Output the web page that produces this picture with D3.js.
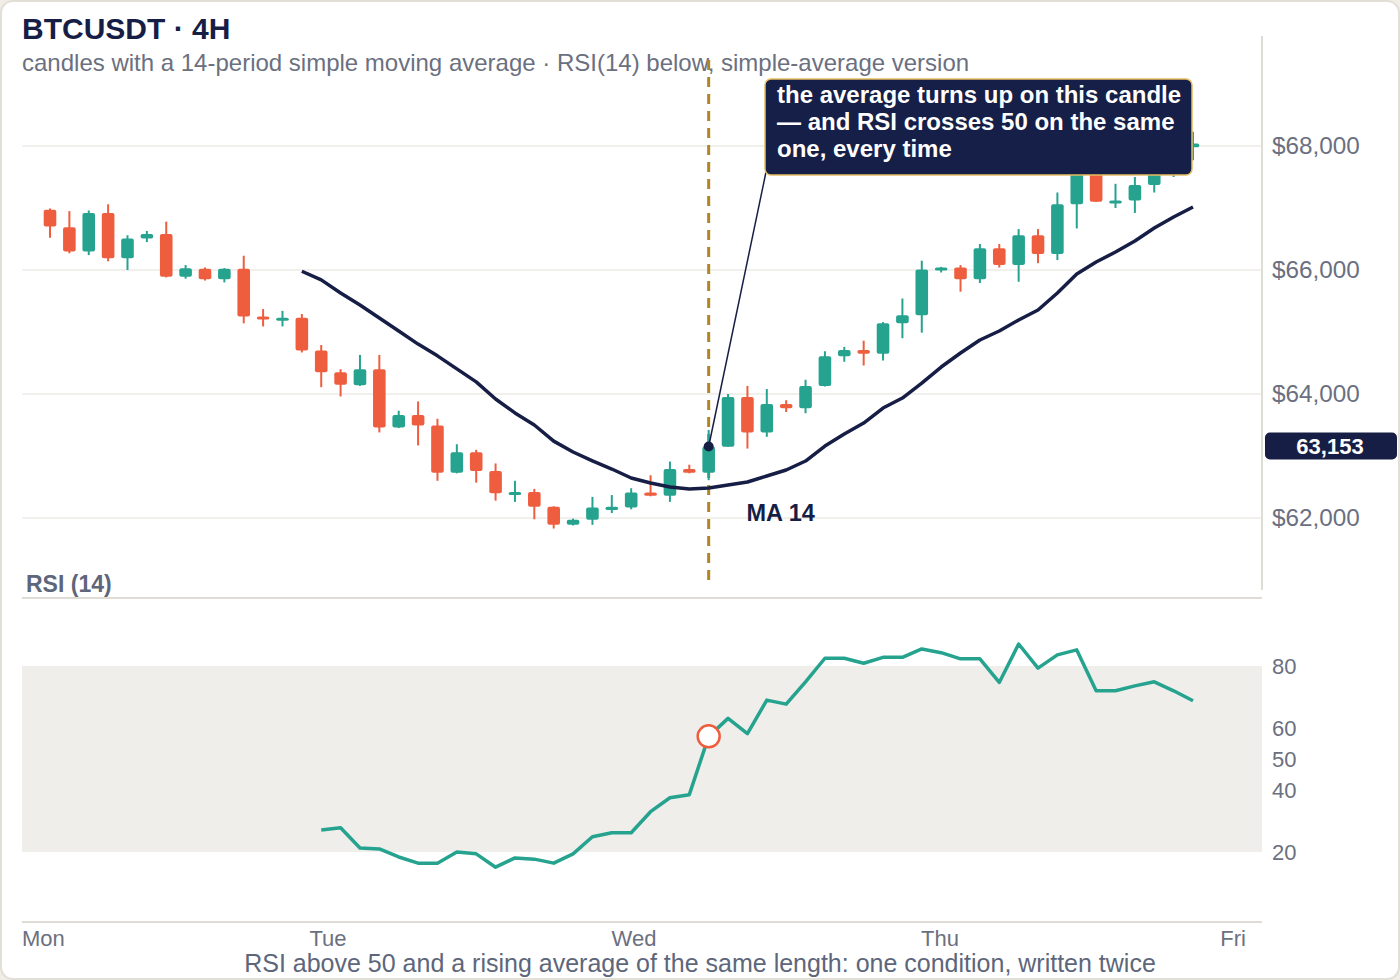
<!DOCTYPE html>
<html>
<head>
<meta charset="utf-8">
<script src="https://cdn.jsdelivr.net/npm/d3@7"></script>
<style>
    body { margin: 0; background: #efede6; }
    svg { display: block; font-family: "Liberation Sans", Arial, sans-serif; }
</style>
</head>
<body>
<div id="chart"></div>
<script>
// 4H candles
var opens = [66970, 66690, 66300, 66920, 66190, 66510, 66580, 65890, 66020, 65850,
             66020, 65250, 65200, 65230, 64700, 64350, 64140, 64400, 63460, 63660,
             63490, 62730, 63060, 62760, 62390, 62420, 62180, 61890, 61970, 62130,
             62170, 62410, 62360, 62790, 62730, 63150, 63950, 63380, 63840, 63770,
             64130, 64610, 64710, 64650, 65140, 65270, 66010, 66040, 65850, 66350,
             66080, 66560, 66260, 67060, 67690, 67100, 67120, 67370, 67610, 67980];
var highs = [66990, 66950, 66960, 67060, 66560, 66630, 66780, 66080, 66040, 66030,
             66230, 65370, 65340, 65290, 64790, 64400, 64630, 64630, 63730, 63880,
             63600, 63190, 63100, 62880, 62600, 62470, 62190, 61990, 62340, 62370,
             62480, 62690, 62910, 62860, 63420, 64000, 64130, 64080, 63900, 64230,
             64690, 64760, 64860, 65160, 65540, 66150, 66050, 66080, 66420, 66420,
             66660, 66660, 67250, 67800, 67780, 67390, 67500, 67770, 68100, 68230];
var lows = [66520, 66270, 66240, 66140, 66000, 66450, 65880, 65860, 65830, 65800,
            65140, 65090, 65090, 64670, 64110, 63960, 64130, 63380, 63450, 63170,
            62600, 62720, 62570, 62280, 62260, 61980, 61830, 61880, 61890, 62080,
            62140, 62350, 62260, 62720, 62610, 63150, 63120, 63310, 63710, 63690,
            64120, 64520, 64460, 64540, 64900, 64990, 65960, 65650, 65790, 66040,
            65810, 66110, 66160, 66670, 67100, 67000, 66920, 67250, 67500, 67770];
var closes = [66700, 66300, 66920, 66190, 66510, 66580, 65890, 66030, 65850, 66020,
              65250, 65210, 65230, 64700, 64350, 64150, 64400, 63460, 63660, 63490,
              62730, 63060, 62760, 62400, 62420, 62180, 61890, 61970, 62170, 62180,
              62410, 62360, 62790, 62730, 63153, 63950, 63380, 63840, 63770, 64130,
              64610, 64710, 64650, 65140, 65270, 66010, 66040, 65850, 66350, 66080,
              66560, 66260, 67060, 67690, 67100, 67120, 67370, 67610, 67980, 68040];

// 14-period simple moving average (starts on candle 13)
var maValues = [null, null, null, null, null, null, null, null, null, null, null, null, null,
                65980, 65840, 65630, 65435, 65225, 65015, 64805, 64615, 64405, 64195,
                63920, 63695, 63500, 63240, 63065, 62920, 62790, 62645, 62565, 62500,
                62468, 62484, 62532, 62581, 62677, 62774, 62919, 63161, 63355, 63532,
                63774, 63935, 64177, 64435, 64661, 64871, 65016, 65194, 65355, 65629,
                65935, 66129, 66290, 66468, 66677, 66855, 67016];

// RSI(14), simple-average version (starts on candle 14)
var rsiValues = [null, null, null, null, null, null, null, null, null, null, null, null, null, null,
                 27.1, 27.8, 21.3, 21.0, 18.4, 16.4, 16.4, 20.0, 19.4, 15.1,
                 18.1, 17.7, 16.4, 19.4, 24.9, 26.2, 26.2, 33.0, 37.5, 38.5,
                 57.3, 63.1, 58.2, 69.0, 67.7, 74.9, 82.5, 82.5, 80.9, 82.8,
                 82.8, 85.5, 84.3, 82.3, 82.3, 74.7, 87.1, 79.3, 83.6, 85.2,
                 72.0, 72.0, 73.6, 74.9, 72.0, 68.8];

var days = ["Mon", "Tue", "Wed", "Thu", "Fri"];
var priceTicks = [62000, 64000, 66000, 68000];
var rsiTicks = [20, 40, 50, 60, 80];
var rsiBand = [20, 80];
var markIndex = 34;

var noteLines = ["the average turns up on this candle",
                 "\u2014 and RSI crosses 50 on the same",
                 "one, every time"];

function draw() {
    var w = 1400;
    var h = 980;
    var left = 22, right = 1262;

    var navy = "#161e45";
    var up = "#26a38f";
    var down = "#ee5d3e";
    var grey = "#6b7080";

    var svg = d3.select("#chart")
        .append("svg")
        .attr("width", w)
        .attr("height", h);

    // card
    svg.append("rect")
        .attr("x", 1).attr("y", 1)
        .attr("width", w - 2).attr("height", h - 2)
        .attr("rx", 12)
        .attr("fill", "#ffffff")
        .attr("stroke", "#e2dfd6")
        .attr("stroke-width", 2);

    var x = d3.scaleLinear()
        .domain([0, opens.length - 1])
        .range([50, 1193]);

    var y = d3.scaleLinear()
        .domain([61000, 69000])
        .range([580, 84]);

    var yr = d3.scaleLinear()
        .domain([0, 100])
        .range([914, 604]);

    var xDay = d3.scalePoint()
        .domain(days)
        .range([left, 1246]);

    // title
    svg.append("text")
        .attr("x", 22).attr("y", 39)
        .attr("font-size", 30)
        .attr("font-weight", "bold")
        .attr("fill", navy)
        .text("BTCUSDT \u00b7 4H");

    svg.append("text")
        .attr("x", 22).attr("y", 71)
        .attr("font-size", 24)
        .attr("fill", grey)
        .text("candles with a 14-period simple moving average \u00b7 RSI(14) below, simple-average version");

    // price grid + labels
    svg.selectAll(".grid")
        .data(priceTicks)
        .enter()
        .append("line")
        .attr("x1", left).attr("x2", right)
        .attr("y1", function (d) { return y(d); })
        .attr("y2", function (d) { return y(d); })
        .attr("stroke", "#ecebe6")
        .attr("stroke-width", 1.5);

    svg.selectAll(".plabel")
        .data(priceTicks)
        .enter()
        .append("text")
        .attr("x", 1272)
        .attr("y", function (d) { return y(d) + 8; })
        .attr("font-size", 24.3)
        .attr("fill", grey)
        .text(function (d) { return "$" + d3.format(",")(d); });

    // right axis line
    svg.append("line")
        .attr("x1", right).attr("x2", right)
        .attr("y1", 36).attr("y2", 590)
        .attr("stroke", "#dedcd5")
        .attr("stroke-width", 2);

    // marked candle guide
    svg.append("line")
        .attr("x1", x(markIndex)).attr("x2", x(markIndex))
        .attr("y1", 60).attr("y2", 580)
        .attr("stroke", "#b08624")
        .attr("stroke-width", 3)
        .attr("stroke-dasharray", "10,7");

    // candles
    var candles = svg.selectAll(".candle")
        .data(opens)
        .enter()
        .append("g")
        .attr("class", "candle");

    candles.append("line")
        .attr("x1", function (d, i) { return x(i); })
        .attr("x2", function (d, i) { return x(i); })
        .attr("y1", function (d, i) { return y(highs[i]); })
        .attr("y2", function (d, i) { return y(lows[i]); })
        .attr("stroke", function (d, i) { return closes[i] >= opens[i] ? up : down; })
        .attr("stroke-width", 2);

    var bw = 12.6;
    candles.append("rect")
        .attr("x", function (d, i) { return x(i) - bw / 2; })
        .attr("y", function (d, i) { return y(Math.max(opens[i], closes[i])); })
        .attr("width", bw)
        .attr("height", function (d, i) {
            return Math.max(3, Math.abs(y(opens[i]) - y(closes[i])));
        })
        .attr("rx", 2)
        .attr("fill", function (d, i) { return closes[i] >= opens[i] ? up : down; });

    // moving average
    var maLine = d3.line()
        .defined(function (d) { return d != null; })
        .x(function (d, i) { return x(i); })
        .y(function (d) { return y(d); });

    svg.append("path")
        .datum(maValues)
        .attr("d", maLine)
        .attr("fill", "none")
        .attr("stroke", navy)
        .attr("stroke-width", 3.5)
        .attr("stroke-linejoin", "round");

    svg.append("text")
        .attr("x", x(36) - 1)
        .attr("y", y(maValues[36]) + 39)
        .attr("font-size", 23.5)
        .attr("font-weight", "bold")
        .attr("fill", navy)
        .text("MA 14");

    // annotation
    var mx = x(markIndex), my = y(closes[markIndex]);
    svg.append("line")
        .attr("x1", mx).attr("y1", my)
        .attr("x2", 766).attr("y2", 172)
        .attr("stroke", navy)
        .attr("stroke-width", 1.5);

    svg.append("circle")
        .attr("cx", mx).attr("cy", my)
        .attr("r", 5)
        .attr("fill", navy);

    svg.append("rect")
        .attr("x", 765).attr("y", 79)
        .attr("width", 427).attr("height", 96)
        .attr("rx", 6)
        .attr("fill", "#161f48")
        .attr("stroke", "#e6bd62")
        .attr("stroke-width", 1.5);

    svg.selectAll(".note")
        .data(noteLines)
        .enter()
        .append("text")
        .attr("x", 777)
        .attr("y", function (d, i) { return 103 + i * 27; })
        .attr("font-size", 24)
        .attr("font-weight", "bold")
        .attr("fill", "#ffffff")
        .text(function (d) { return d; });

    // marked price tag
    svg.append("rect")
        .attr("x", 1265).attr("y", my - 14)
        .attr("width", 132).attr("height", 27)
        .attr("rx", 5)
        .attr("fill", navy);

    svg.append("text")
        .attr("x", 1330).attr("y", my + 7.5)
        .attr("text-anchor", "middle")
        .attr("font-size", 22)
        .attr("font-weight", "bold")
        .attr("fill", "#ffffff")
        .text(d3.format(",")(closes[markIndex]));

    // RSI panel
    svg.append("text")
        .attr("x", 26).attr("y", 592)
        .attr("font-size", 23)
        .attr("font-weight", "bold")
        .attr("fill", "#5d667a")
        .text("RSI (14)");

    svg.append("line")
        .attr("x1", left).attr("x2", right)
        .attr("y1", 598).attr("y2", 598)
        .attr("stroke", "#dedcd5")
        .attr("stroke-width", 2);

    svg.append("rect")
        .attr("x", left)
        .attr("y", yr(rsiBand[1]))
        .attr("width", right - left)
        .attr("height", yr(rsiBand[0]) - yr(rsiBand[1]))
        .attr("fill", "#efeeeb");

    svg.selectAll(".rlabel")
        .data(rsiTicks)
        .enter()
        .append("text")
        .attr("x", 1272)
        .attr("y", function (d) { return yr(d) + 8; })
        .attr("font-size", 22)
        .attr("fill", grey)
        .text(function (d) { return d; });

    var rsiLine = d3.line()
        .defined(function (d) { return d != null; })
        .x(function (d, i) { return x(i); })
        .y(function (d) { return yr(d); });

    svg.append("path")
        .datum(rsiValues)
        .attr("d", rsiLine)
        .attr("fill", "none")
        .attr("stroke", up)
        .attr("stroke-width", 3.5)
        .attr("stroke-linejoin", "round");

    svg.append("circle")
        .attr("cx", x(markIndex))
        .attr("cy", yr(rsiValues[markIndex]))
        .attr("r", 11)
        .attr("fill", "#ffffff")
        .attr("stroke", down)
        .attr("stroke-width", 2.5);

    svg.append("line")
        .attr("x1", left).attr("x2", right)
        .attr("y1", 922).attr("y2", 922)
        .attr("stroke", "#dedcd5")
        .attr("stroke-width", 2);

    // day labels
    svg.selectAll(".day")
        .data(days)
        .enter()
        .append("text")
        .attr("x", function (d) { return xDay(d); })
        .attr("y", 946)
        .attr("text-anchor", function (d, i) {
            if (i == 0) return "start";
            if (i == days.length - 1) return "end";
            return "middle";
        })
        .attr("font-size", 22)
        .attr("fill", grey)
        .text(function (d) { return d; });

    svg.append("text")
        .attr("x", 700).attr("y", 972)
        .attr("text-anchor", "middle")
        .attr("font-size", 25)
        .attr("fill", "#5d667a")
        .text("RSI above 50 and a rising average of the same length: one condition, written twice");
}

window.onload = draw;
</script>
</body>
</html>
